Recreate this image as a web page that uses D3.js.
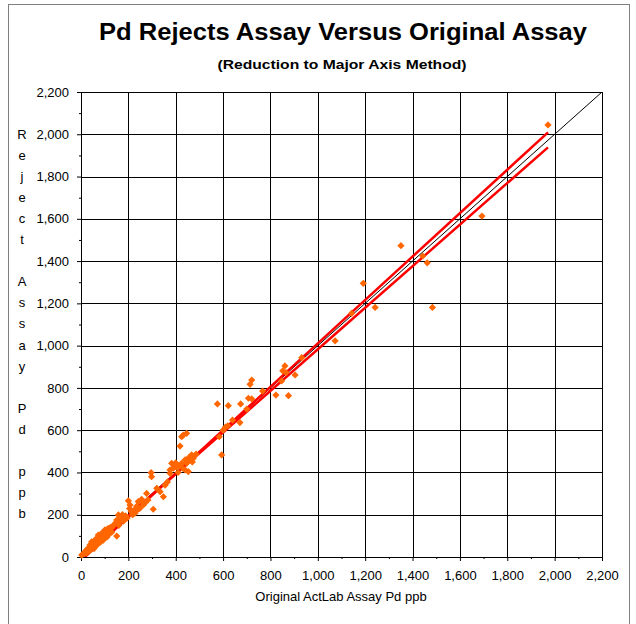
<!DOCTYPE html>
<html>
<head>
<meta charset="utf-8">
<script src="https://cdn.jsdelivr.net/npm/d3@7"></script>
<style>
  body { margin: 0; background: #fff; }
  svg { display: block; font-family: "Liberation Sans", Arial, sans-serif; }
  .tick text { font-size: 13px; fill: #000; }
  .grid line { stroke: #000; stroke-width: 1; shape-rendering: crispEdges; }
</style>
</head>
<body>
<div id="chart"></div>
<script>
// Chart data
const originalAssay = [
    3, 10, 17, 22, 25, 31, 35, 38, 42, 45, 50, 55, 59, 60, 62, 66, 70, 73, 78, 82,
    85, 87, 90, 94, 98, 101, 105, 110, 115, 115, 120, 125, 130, 130, 138, 144, 151, 151, 158, 160,
    165, 172, 175, 180, 188, 195, 200, 205, 207, 212, 218, 225, 228, 235, 240, 242, 248, 256, 260, 263,
    270, 277, 283, 296, 298, 305, 320, 334, 348, 355, 365, 376, 376, 383, 390, 397, 400, 404, 410, 415,
    418, 425, 425, 430, 432, 439, 440, 446, 446, 453, 455, 460, 467, 470, 474, 486, 576, 584, 594, 600,
    610, 620, 622, 640, 671, 674, 700, 707, 714, 721, 721, 767, 823, 847, 852, 861, 866, 876, 904, 932,
    1073, 1143, 1192, 1242, 1351, 1443, 1462, 1484, 1693, 1972
];
const rejectAssay = [
    9, 15, 25, 18, 35, 41, 28, 57, 45, 72, 55, 40, 80, 50, 65, 88, 60, 104, 85, 70,
    100, 112, 95, 80, 120, 128, 110, 95, 136, 104, 125, 140, 118, 140, 150, 159, 175, 99, 199, 150,
    167, 183, 200, 170, 195, 185, 266, 230, 246, 215, 200, 222, 207, 240, 225, 262, 230, 273, 260, 246,
    255, 301, 270, 399, 380, 226, 325, 309, 285, 340, 355, 396, 412, 443, 420, 427, 445, 427, 400, 430,
    525, 443, 569, 420, 577, 412, 460, 585, 443, 404, 470, 459, 483, 450, 467, 487, 724, 569, 483, 600,
    615, 621, 716, 648, 636, 724, 700, 751, 817, 837, 748, 785, 766, 833, 881, 904, 872, 763, 861, 943,
    1023, 1153, 1295, 1181, 1473, 1424, 1392, 1181, 1613, 2044
];
// Reduced major axis fit lines (start / end points)
const upperLineX = [16, 1972];
const upperLineY = [0, 2009];
const lowerLineX = [5, 1972];
const lowerLineY = [5, 1938];
const equalLine = [0, 2200];

const majorTicks = d3.range(0, 2201, 200);
const minorTicks = d3.range(100, 2200, 200);

const titleText = "Pd Rejects Assay Versus Original Assay";
const subtitleText = "(Reduction to Major Axis Method)";
const xTitle = "Original ActLab Assay Pd ppb";
const yTitle = "Reject Assay Pd ppb";

const width = 636, height = 624;
const plot = { left: 81, right: 602, top: 92, bottom: 557 };

const svg = d3.select('#chart')
    .append('svg')
    .attr('width', width)
    .attr('height', height);

// Outer chart frame
svg.append('rect')
    .attr('x', 8.5)
    .attr('y', 4.5)
    .attr('width', 621)
    .attr('height', 640)
    .attr('fill', '#fff')
    .attr('stroke', '#808080');

const xScale = d3.scaleLinear().domain([0, 2200]).range([plot.left, plot.right]);
const yScale = d3.scaleLinear().domain([0, 2200]).range([plot.bottom, plot.top]);

// Titles (Excel renders them a bit wider than Liberation Sans)
svg.append('text')
    .attr('x', 343)
    .attr('y', 40)
    .attr('text-anchor', 'middle')
    .attr('textLength', 488)
    .attr('lengthAdjust', 'spacingAndGlyphs')
    .style('font-size', '23.5px')
    .style('font-weight', 'bold')
    .text(titleText);

svg.append('text')
    .attr('x', 342)
    .attr('y', 69)
    .attr('text-anchor', 'middle')
    .attr('textLength', 249)
    .attr('lengthAdjust', 'spacingAndGlyphs')
    .style('font-size', '13px')
    .style('font-weight', 'bold')
    .text(subtitleText);

// Gridlines
svg.append('g')
    .attr('class', 'grid')
    .selectAll('line.v')
    .data(majorTicks)
    .join('line')
    .attr('x1', d => Math.round(xScale(d)) + 0.5)
    .attr('x2', d => Math.round(xScale(d)) + 0.5)
    .attr('y1', plot.top)
    .attr('y2', plot.bottom);

svg.append('g')
    .attr('class', 'grid')
    .selectAll('line.h')
    .data(majorTicks)
    .join('line')
    .attr('x1', plot.left)
    .attr('x2', plot.right)
    .attr('y1', d => Math.round(yScale(d)) + 0.5)
    .attr('y2', d => Math.round(yScale(d)) + 0.5);

// Axes
const xAxis = svg.append('g')
    .attr('transform', `translate(0,${plot.bottom})`)
    .call(d3.axisBottom(xScale)
        .tickValues(majorTicks)
        .tickSize(4)
        .tickPadding(10)
        .tickFormat(d3.format(',')));
xAxis.select('.domain').remove();

svg.append('g')
    .attr('transform', `translate(0,${plot.bottom})`)
    .call(d3.axisBottom(xScale).tickValues(minorTicks).tickSize(2).tickFormat(''))
    .select('.domain').remove();

const yAxis = svg.append('g')
    .attr('transform', `translate(${plot.left},0)`)
    .call(d3.axisLeft(yScale)
        .tickValues(majorTicks)
        .tickSize(4)
        .tickPadding(8)
        .tickFormat(d3.format(',')));
yAxis.select('.domain').remove();

svg.append('g')
    .attr('transform', `translate(${plot.left},0)`)
    .call(d3.axisLeft(yScale).tickValues(minorTicks).tickSize(2).tickFormat(''))
    .select('.domain').remove();

svg.selectAll('.tick line').attr('stroke', '#000');

// Plot border
svg.append('rect')
    .attr('x', plot.left + 0.5)
    .attr('y', plot.top + 0.5)
    .attr('width', plot.right - plot.left)
    .attr('height', plot.bottom - plot.top)
    .attr('fill', 'none')
    .attr('stroke', '#000');

// Axis titles
svg.append('text')
    .attr('x', 341)
    .attr('y', 601)
    .attr('text-anchor', 'middle')
    .style('font-size', '13px')
    .text(xTitle);

// Stacked vertical y title, one letter per line, one blank line between words
const yLabel = svg.append('text')
    .attr('x', 22)
    .attr('y', 139)
    .attr('text-anchor', 'middle')
    .style('font-size', '13px');
yLabel.selectAll('tspan')
    .data(yTitle.split(''))
    .join('tspan')
    .attr('x', 22)
    .attr('dy', (d, i) => i === 0 ? 0 : 21.05)
    .text(d => d === ' ' ? '\u00a0' : d);

// Clip for lines
svg.append('clipPath')
    .attr('id', 'plot-clip')
    .append('rect')
    .attr('x', plot.left)
    .attr('y', plot.top)
    .attr('width', plot.right - plot.left)
    .attr('height', plot.bottom - plot.top);

const line = d3.line()
    .x(d => xScale(d[0]))
    .y(d => yScale(d[1]));

const lines = svg.append('g').attr('clip-path', 'url(#plot-clip)');

lines.append('path')
    .datum(d3.zip(equalLine, equalLine))
    .attr('d', line)
    .attr('fill', 'none')
    .attr('stroke', '#000')
    .attr('stroke-width', 1);

[[upperLineX, upperLineY], [lowerLineX, lowerLineY]].forEach(([lx, ly]) => {
    lines.append('path')
        .datum(d3.zip(lx, ly))
        .attr('d', line)
        .attr('fill', 'none')
        .attr('stroke', '#FF0000')
        .attr('stroke-width', 2.5);
});

// Data points
const points = d3.zip(originalAssay, rejectAssay);
const diamond = d3.symbol(d3.symbolSquare, 26);

svg.append('g')
    .selectAll('path')
    .data(points)
    .join('path')
    .attr('d', diamond)
    .attr('transform', d => `translate(${xScale(d[0])},${yScale(d[1])}) rotate(45)`)
    .attr('fill', '#FF6600');
</script>
</body>
</html>
